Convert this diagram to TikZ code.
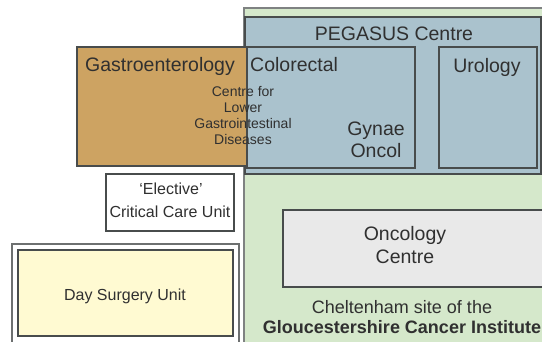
\documentclass[tikz,border=0pt]{standalone}
\usepackage{fontspec}
\setmainfont{Liberation Sans}
\usetikzlibrary{positioning}

\definecolor{sitegreen}{RGB}{213,232,203}
\definecolor{pegblue}{RGB}{170,194,205}
\definecolor{gastrotan}{RGB}{205,163,98}
\definecolor{dayyellow}{RGB}{255,250,210}
\definecolor{oncgray}{RGB}{233,233,233}
\definecolor{edgegray}{RGB}{72,76,76}
\definecolor{textgray}{RGB}{48,48,48}

\tikzset{
  zone/.style={draw=edgegray, line width=1.6pt, inner sep=0pt, outer sep=0pt, anchor=north west},
  bigtext/.style={font=\fontsize{19.5}{22}\selectfont, text=textgray, inner sep=0pt, anchor=base},
  midtext/.style={font=\fontsize{16}{23}\selectfont, text=textgray, inner sep=0pt, anchor=base},
  smalltext/.style={font=\fontsize{14}{16}\selectfont, text=textgray, inner sep=0pt, anchor=base},
  sitetext/.style={font=\fontsize{18}{20}\selectfont, text=textgray, inner sep=0pt, anchor=base}
}

\begin{document}
\begin{tikzpicture}[x=1pt, y=-1pt]
    \useasboundingbox (0,0) rectangle (542,341);
    \fill[white] (0,0) rectangle (542,341);

    % site and PEGASUS block
    \node[zone, draw=edgegray!70, line width=1.2pt, fill=sitegreen, minimum width=310pt, minimum height=345pt] (site) at (244,8) {};
    \node[zone, fill=pegblue, minimum width=296pt, minimum height=157pt] (pegasus) at (245,17) {};
    \node[zone, fill=pegblue, minimum width=168pt, minimum height=121pt] (colorectal) at (247,47) {};
    \node[zone, fill=pegblue, minimum width=98pt, minimum height=121pt] (urology) at (439,47) {};
    \node[zone, fill=gastrotan, minimum width=170pt, minimum height=119pt] (gastro) at (77,47) {};

    % units on the left
    \node[zone, fill=white, minimum width=128pt, minimum height=57pt] (elective) at (106,174) {};
    \node[zone, draw=edgegray!80, line width=1.2pt, fill=white, minimum width=227pt, minimum height=110pt] (dayouter) at (12,244) {};
    \node[zone, fill=dayyellow, minimum width=215pt, minimum height=86pt] (dayunit) at (18,250) {};
    \node[zone, fill=oncgray, minimum width=270pt, minimum height=77pt] (oncology) at (283,210) {};

    % labels
    \node[bigtext] (pegtitle) at (394,40) {PEGASUS Centre};
    \node[bigtext] (gastrotitle) at (160,71) {Gastroenterology};
    \node[bigtext, anchor=base west] (colotitle) at (250,71) {Colorectal};
    \node[bigtext] (urotitle) at (487,72) {Urology};
    \node[smalltext] (lgi1) at (243,96) {Centre for};
    \node[smalltext, below=0pt of lgi1.base, anchor=base, yshift=-16pt] (lgi2) {Lower};
    \node[smalltext, below=0pt of lgi2.base, anchor=base, yshift=-16pt] (lgi3) {Gastrointestinal};
    \node[smalltext, below=0pt of lgi3.base, anchor=base, yshift=-16pt] (lgi4) {Diseases};
    \node[bigtext] (gynae1) at (376,135) {Gynae};
    \node[bigtext] (gynae2) at (376,157) {Oncol};
    \node[midtext] (elect1) at (171,194) {`Elective'};
    \node[midtext] (elect2) at (170,217) {Critical Care Unit};
    \node[midtext] (daytitle) at (125,300) {Day Surgery Unit};
    \node[bigtext] (onc1) at (405,240) {Oncology};
    \node[bigtext] (onc2) at (405,263) {Centre};
    \node[sitetext] (site1) at (402,313) {Cheltenham site of the};
    \node[sitetext, font=\fontsize{18}{20}\selectfont\bfseries] (site2) at (402,333) {Gloucestershire Cancer Institute};
\end{tikzpicture}
\end{document}
